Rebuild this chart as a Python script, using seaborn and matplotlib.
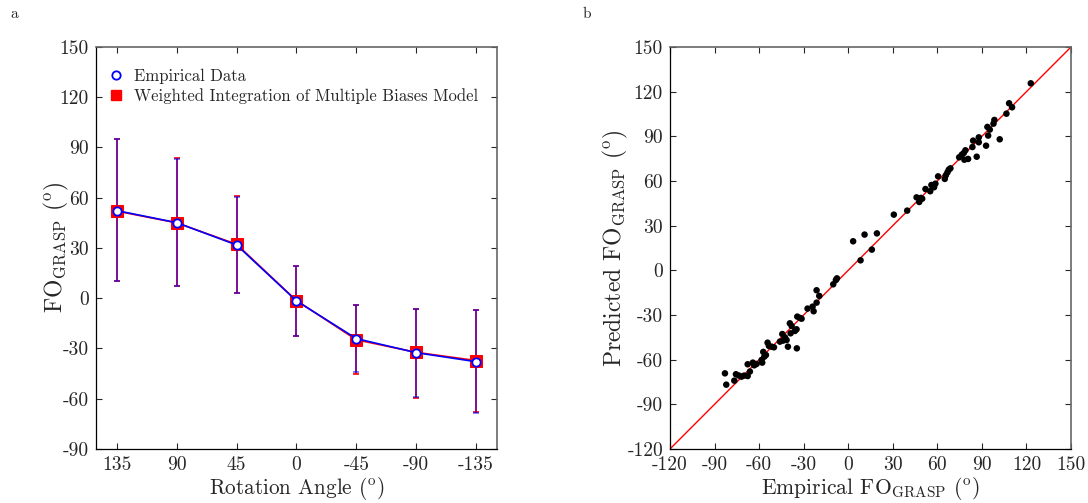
import matplotlib
matplotlib.use("Agg")
import matplotlib.pyplot as plt
from matplotlib.lines import Line2D
import seaborn as sns
import pandas as pd
import numpy as np

# ---------------- data ----------------
angle_labels = ["135", "90", "45", "0", "-45", "-90", "-135"]
emp_mean = [52.3, 45.1, 31.8, -1.6, -24.1, -32.5, -37.9]
emp_upper = [95.0, 83.3, 60.6, 19.3, -3.9, -6.2, -7.0]
emp_lower = [10.0, 7.5, 3.3, -22.4, -44.2, -58.8, -68.5]
model_mean = [52.0, 45.0, 32.2, -1.4, -24.8, -32.3, -37.2]
model_upper = [95.0, 83.8, 61.0, 19.5, -3.9, -6.2, -7.0]
model_lower = [10.0, 7.5, 3.3, -22.4, -45.5, -59.3, -67.8]

emp_x = [-83.0, -82.1, -76.7, -75.6, -73.6, -71.8, -70.0, -67.7, -67.7, -66.2,
         -64.2, -63.3, -61.7, -58.3, -57.9, -57.2, -56.5, -55.4, -54.3, -53.4,
         -51.6, -50.0, -46.0, -44.4, -43.8, -42.6, -41.5, -40.6, -39.3, -38.1,
         -38.8, -35.9, -34.8, -34.6, -34.3, -32.5, -31.4, -27.4, -24.0, -23.3,
         -21.3, -21.3, -19.5, -10.1, -8.3, -7.6, 3.3, 8.3, 11.0, 15.9,
         19.3, 30.7, 39.7, 46.0, 47.8, 48.9, 49.8, 52.0, 55.2, 56.0,
         57.8, 58.7, 60.5, 65.0, 65.7, 66.8, 67.7, 68.8, 74.7, 76.5,
         77.8, 78.9, 78.2, 80.7, 84.1, 83.6, 86.5, 87.9, 87.9, 92.8,
         93.7, 94.2, 95.3, 97.8, 98.4, 102.0, 106.5, 108.3, 110.3, 122.9]
pred_y = [-69.2, -76.8, -74.1, -69.8, -70.7, -71.4, -70.7, -71.0, -63.1, -68.0,
          -62.0, -63.8, -62.9, -60.2, -62.0, -54.8, -58.0, -56.9, -48.6, -50.8,
          -51.3, -51.7, -47.9, -42.8, -47.2, -45.0, -46.8, -51.3, -35.6, -37.4,
          -42.3, -40.7, -39.6, -52.4, -31.1, -32.0, -32.5, -25.7, -24.4, -27.5,
          -13.4, -21.7, -17.2, -9.4, -6.5, -5.4, 19.5, 6.7, 24.0, 13.9,
          24.8, 37.4, 40.1, 49.0, 45.9, 48.6, 48.1, 54.6, 53.1, 57.3,
          55.8, 58.2, 63.1, 61.4, 63.8, 65.8, 67.6, 68.5, 75.9, 77.7,
          78.8, 80.6, 74.3, 74.8, 87.1, 82.8, 76.3, 89.3, 86.0, 83.7,
          96.3, 90.5, 94.5, 98.5, 101.0, 88.0, 105.2, 112.2, 109.5, 125.6]

identity = [-120, 150]
tick_vals_left = list(range(-90, 151, 30))
tick_vals_right = list(range(-120, 151, 30))

# ---------------- style ----------------
sns.set_style("ticks")
plt.rcParams["font.family"] = "serif"
plt.rcParams["font.serif"] = ["cmr10", "DejaVu Serif"]
plt.rcParams["mathtext.fontset"] = "cm"
plt.rcParams["axes.unicode_minus"] = False
plt.rcParams["axes.formatter.use_mathtext"] = True

BLUE = "#0000ff"
RED = "#ff0000"

fig = plt.figure(figsize=(10.88, 5.03), dpi=100)
ax1 = fig.add_axes([0.0882, 0.1074, 0.3686, 0.7992])
ax2 = fig.add_axes([0.6158, 0.1074, 0.3686, 0.7992])

pos = np.arange(len(angle_labels))
df_emp = pd.DataFrame({"pos": pos, "val": emp_mean})
df_mod = pd.DataFrame({"pos": pos, "val": model_mean})

# error bars
ax1.errorbar(pos, model_mean,
             yerr=[np.array(model_mean) - np.array(model_lower),
                   np.array(model_upper) - np.array(model_mean)],
             fmt="none", ecolor=RED, elinewidth=1.2, capsize=2.2, capthick=1.2, zorder=2)
ax1.errorbar(pos, emp_mean,
             yerr=[np.array(emp_mean) - np.array(emp_lower),
                   np.array(emp_upper) - np.array(emp_mean)],
             fmt="none", ecolor=BLUE, elinewidth=1.2, capsize=2.2, capthick=1.2,
             alpha=0.6, zorder=3)

sns.lineplot(data=df_mod, x="pos", y="val", ax=ax1, color=RED, lw=1.2,
             marker="s", markersize=8, markeredgecolor=RED, markerfacecolor=RED,
             zorder=4)
sns.lineplot(data=df_emp, x="pos", y="val", ax=ax1, color=BLUE, lw=1.2,
             marker="o", markersize=6, markeredgecolor=BLUE, markerfacecolor="white",
             markeredgewidth=1.3, zorder=5)

ax1.set_xlim(-0.35, 6.35)
ax1.set_ylim(-90, 150)
ax1.set_xticks(pos)
ax1.set_xticklabels(angle_labels)
ax1.set_yticks(tick_vals_left)
ax1.set_yticklabels([str(v) for v in tick_vals_left])
ax1.set_xlabel(r"Rotation Angle ($^{\rm o}$)", fontsize=15.3, labelpad=1)
ax1.set_ylabel(r"FO$_{\rm GRASP}$ ($^{\rm o}$)", fontsize=17, labelpad=-8)

handles = [
    Line2D([], [], ls="none", marker="o", markersize=6, markeredgecolor=BLUE,
           markerfacecolor="white", markeredgewidth=1.3),
    Line2D([], [], ls="none", marker="s", markersize=7, markeredgecolor=RED,
           markerfacecolor=RED),
]
ax1.legend(handles, ["Empirical Data", "Weighted Integration of Multiple Biases Model"],
           loc="upper left", frameon=False, fontsize=12, handlelength=1.0,
           handletextpad=0.6, borderaxespad=0.3, labelspacing=0.25,
           bbox_to_anchor=(0.0, 0.975))

# right panel
df_sc = pd.DataFrame({"emp": emp_x, "pred": pred_y})
sns.lineplot(x=identity, y=identity, ax=ax2, color=RED, lw=1.0, zorder=2)
sns.scatterplot(data=df_sc, x="emp", y="pred", ax=ax2, color="black", s=22,
                edgecolor="none", zorder=3)
ax2.set_xlim(-120, 150)
ax2.set_ylim(-120, 150)
ax2.set_xticks(tick_vals_right)
ax2.set_xticklabels([str(v) for v in tick_vals_right])
ax2.set_yticks(tick_vals_right)
ax2.set_yticklabels([str(v) for v in tick_vals_right])
ax2.set_xlabel(r"Empirical FO$_{\rm GRASP}$ ($^{\rm o}$)", fontsize=15.6, labelpad=1)
ax2.set_ylabel(r"Predicted FO$_{\rm GRASP}$ ($^{\rm o}$)", fontsize=17, labelpad=-2)

for ax in (ax1, ax2):
    ax.tick_params(direction="in", top=True, right=True, length=4, width=0.8,
                   labelsize=14, pad=5)
    for side in ("left", "bottom"):
        ax.spines[side].set_color("black")
        ax.spines[side].set_linewidth(0.9)
    for side in ("top", "right"):
        ax.spines[side].set_visible(True)
        ax.spines[side].set_color("#666666")
        ax.spines[side].set_linewidth(1.2)

fig.text(10 / 1088, 1 - 14 / 503, "a", fontsize=11, ha="left", va="center")
fig.text(583 / 1088, 1 - 14 / 503, "b", fontsize=11, ha="left", va="center")

fig.savefig("out.png", dpi=100)
